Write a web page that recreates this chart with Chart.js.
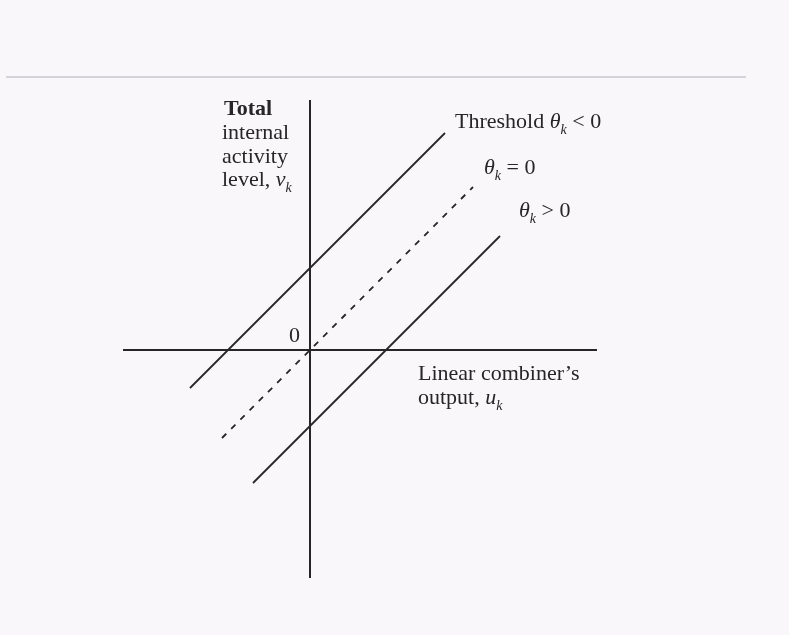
<!DOCTYPE html>
<html>
<head>
<meta charset="utf-8">
<script src="https://cdn.jsdelivr.net/npm/chart.js@4.4.0/dist/chart.umd.min.js"></script>
<style>
  html, body { margin: 0; padding: 0; background: #faf7fb; }
  #wrap { position: relative; width: 789px; height: 635px; }
  #scanline { position: absolute; left: 6px; top: 76px; width: 740px; height: 2px; background: #d6d3d8; }
  canvas { position: absolute; left: 0; top: 0; }
</style>
</head>
<body>
<div id="wrap">
  <div id="scanline"></div>
  <canvas id="thresholdChart" width="789" height="635"></canvas>
</div>
<script>
// axis extents (data units, origin at the crossing of the axes)
const xRange = [-18.7, 28.7];
const yRange = [-22.8, 25.0];

// the three threshold lines, v = u - theta
const negThetaX = [-12.0, 13.5];
const negThetaY = [-3.8, 21.7];
const zeroThetaX = [-8.8, 16.3];
const zeroThetaY = [-8.8, 16.3];
const posThetaX = [-5.7, 19.0];
const posThetaY = [-13.3, 11.4];

const toPoints = (xs, ys) => xs.map((x, i) => ({ x: x, y: ys[i] }));

const ink = '#262626';
const serif = '"Liberation Serif", "DejaVu Serif", serif';

// text labels: parts with optional subscript / italic, placed at data coords
const labels = [
  { x: -8.6, y: 23.5, bold: true, parts: [{ t: 'Total' }] },
  { x: -8.8, y: 21.1, parts: [{ t: 'internal' }] },
  { x: -8.8, y: 18.7, parts: [{ t: 'activity' }] },
  { x: -8.8, y: 16.4, parts: [{ t: 'level, ' }, { t: 'v', it: true }, { t: 'k', sub: true, it: true }] },
  { x: 14.5, y: 22.2, parts: [{ t: 'Threshold ' }, { t: 'θ', it: true }, { t: 'k', sub: true, it: true }, { t: ' < 0' }] },
  { x: 17.4, y: 17.6, parts: [{ t: 'θ', it: true }, { t: 'k', sub: true, it: true }, { t: ' = 0' }] },
  { x: 20.9, y: 13.3, parts: [{ t: 'θ', it: true }, { t: 'k', sub: true, it: true }, { t: ' > 0' }] },
  { x: -2.1, y: 0.8, parts: [{ t: '0' }] },
  { x: 10.8, y: -3.0, parts: [{ t: 'Linear combiner\u2019s' }] },
  { x: 10.8, y: -5.4, parts: [{ t: 'output, ' }, { t: 'u', it: true }, { t: 'k', sub: true, it: true }] }
];

const labelPlugin = {
  id: 'figureLabels',
  afterDatasetsDraw(chart) {
    const ctx = chart.ctx;
    const sx = chart.scales.x, sy = chart.scales.y;
    ctx.save();
    ctx.fillStyle = ink;
    ctx.textBaseline = 'alphabetic';
    labels.forEach(l => {
      let px = sx.getPixelForValue(l.x);
      const py = sy.getPixelForValue(l.y);
      l.parts.forEach(p => {
        const size = p.sub ? 14 : 22;
        ctx.font = (p.it ? 'italic ' : '') + (l.bold ? 'bold ' : '') + size + 'px ' + serif;
        ctx.fillText(p.t, px, py + (p.sub ? 6 : 0));
        px += ctx.measureText(p.t).width;
      });
    });
    ctx.restore();
  }
};

const lineStyle = { borderColor: ink, borderWidth: 2, pointRadius: 0, showLine: true, fill: false };

new Chart(document.getElementById('thresholdChart'), {
  type: 'scatter',
  data: {
    datasets: [
      { label: 'vertical axis', data: toPoints([0, 0], yRange), ...lineStyle },
      { label: 'horizontal axis', data: toPoints(xRange, [0, 0]), ...lineStyle },
      { label: 'theta < 0', data: toPoints(negThetaX, negThetaY), ...lineStyle, borderWidth: 1.8 },
      { label: 'theta = 0', data: toPoints(zeroThetaX, zeroThetaY), ...lineStyle, borderWidth: 1.8, borderDash: [6, 7] },
      { label: 'theta > 0', data: toPoints(posThetaX, posThetaY), ...lineStyle, borderWidth: 1.8 }
    ]
  },
  options: {
    responsive: false,
    animation: false,
    layout: { padding: { left: 123, right: 192, top: 100, bottom: 57 } },
    plugins: { legend: { display: false }, tooltip: { enabled: false } },
    scales: {
      x: { type: 'linear', display: false, min: xRange[0], max: xRange[1] },
      y: { type: 'linear', display: false, min: yRange[0], max: yRange[1] }
    }
  },
  plugins: [labelPlugin]
});
</script>
</body>
</html>
